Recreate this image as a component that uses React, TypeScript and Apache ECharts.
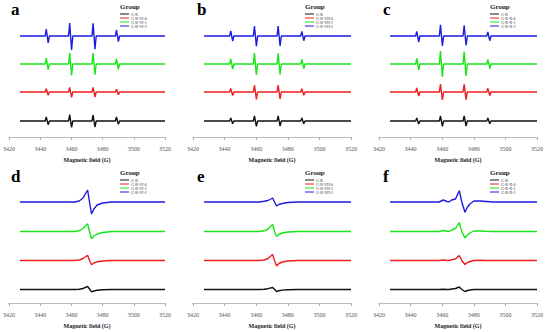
import React, { useEffect, useRef } from "react";
import * as echarts from "echarts";

const PANEL_LETTERS = ["a", "b", "c", "d", "e", "f"];
const GROUP_LABELS = [
  ["G-R", "G-R-VI-0", "G-R-VI-1", "G-R-VI-2"],
  ["G-R", "G-R-VII-0", "G-R-VII-1", "G-R-VII-2"],
  ["G-R", "G-R-X-0", "G-R-X-1", "G-R-X-2"],
  ["G-R", "G-R-VI-0", "G-R-VI-1", "G-R-VI-2"],
  ["G-R", "G-R-VII-0", "G-R-VII-1", "G-R-VII-2"],
  ["G-R", "G-R-X-0", "G-R-X-1", "G-R-X-2"],
];
const X_TICKS = [3420, 3440, 3460, 3480, 3500, 3520];

// Magnetic field sample points (G) for quartet spectra (top row)
const QUARTET_FIELD = [3427, 3443.2, 3443.9, 3445.1, 3445.9, 3458.2, 3458.9, 3460.1, 3460.9, 3473.2, 3473.9, 3475.1, 3475.9, 3488.2, 3488.9, 3490.1, 3490.9, 3520];
// intensities (black, red, green, blue)
const aBlack = [0, 0, 4, -3.7, 0, 0, 6.3, -6.3, 0, 0, 6, -6, 0, 0, 4, -3.3, 0, 0];
const aRed = [0, 0, 3.3, -3.3, 0, 0, 4.7, -5.3, 0, 0, 4.7, -5, 0, 0, 2.7, -2.7, 0, 0];
const aGreen = [0, 0, 6, -5.7, 0, 0, 11, -11.3, 0, 0, 11, -10.7, 0, 0, 5, -5, 0, 0];
const aBlue = [0, 0, 7, -7, 0, 0, 13, -14, 0, 0, 12.7, -13.3, 0, 0, 6, -5.7, 0, 0];

const bBlack = [0, 0, 3, -2.7, 0, 0, 5, -5.3, 0, 0, 5, -5, 0, 0, 3, -2.7, 0, 0];
const bRed = [0, 0, 3.5, -3.5, 0, 0, 7, -7.3, 0, 0, 7, -7, 0, 0, 3.3, -3.3, 0, 0];
const bGreen = [0, 0, 5, -5, 0, 0, 11, -11, 0, 0, 10.7, -10.5, 0, 0, 4.7, -4.7, 0, 0];
const bBlue = [0, 0, 5, -5, 0, 0, 10, -10.3, 0, 0, 10, -10, 0, 0, 4.7, -4.7, 0, 0];

const cBlack = [0, 0, 3, -3, 0, 0, 5, -5.3, 0, 0, 5, -5, 0, 0, 3, -2.7, 0, 0];
const cRed = [0, 0, 4, -4, 0, 0, 8, -8, 0, 0, 7.7, -7.7, 0, 0, 3.7, -3.7, 0, 0];
const cGreen = [0, 0, 5.7, -6, 0, 0, 13, -12.7, 0, 0, 12.3, -12, 0, 0, 4.7, -4.7, 0, 0];
const cBlue = [0, 0, 4.7, -6, 0, 0, 11.3, -10, 0, 0, 10.7, -9.3, 0, 0, 4, -4.7, 0, 0];

// Field sample points for the single broad line spectra (bottom row)
const SINGLET_FIELD = [3427, 3462, 3465, 3467.5, 3469.3, 3470.4, 3471.6, 3472.9, 3474.4, 3476.5, 3480, 3486, 3520];
const dBlack = [0, 0, 0.3, 1, 2.3, 3, 0.5, -2.3, -1.5, -0.8, -0.3, 0, 0];
const dRed = [0, 0, 0.5, 2, 4, 5.3, 0, -4.3, -2.5, -1.3, -0.5, 0, 0];
const dGreen = [0, 0, 0.7, 3, 6, 7.7, 0, -7.3, -4.5, -2.5, -1, 0, 0];
const dBlue = [0, 0, 1, 4, 9, 12, 0, -12, -7, -3, -1, 0, 0];

const eBlack = [0, 0, 0.3, 0.8, 1.6, 2, 0.3, -2, -1.2, -0.6, -0.2, 0, 0];
const eRed = [0, 0, 0.5, 2, 4.5, 6, 0, -5.5, -3, -1.5, -0.5, 0, 0];
const eGreen = [0, 0, 0.7, 2.5, 5.5, 7, 0, -5, -3, -1.5, -0.5, 0, 0];
const eBlue = [0, 0, 0.8, 1.5, 3, 4, 0, -4, -2.5, -1.5, -0.5, 0, 0];

const F_FIELD = [3427, 3458, 3460.7, 3463, 3464.5, 3466, 3468.4, 3470.8, 3472.4, 3474.4, 3476, 3477.5, 3480, 3484, 3488, 3492, 3520];
const fBlack = [0, 0, 0.3, 0, 0, 0.5, 1, 2.5, 0, -2, -1, -0.5, 0, 0, 0, 0, 0];
const fRed = [0, 0, 0.5, 0, 0, 0.8, 1.5, 5, 0, -4, -2, -1, 0, 0.3, 0, 0, 0];
const fGreen = [0, 0, 1, 0.3, 0.3, 1.5, 3, 9, 0, -6.5, -3.5, -1.5, 0.5, 0.5, 0.2, 0, 0];
const fBlue = [0, 0, 2, 0.5, 0.3, 2, 3, 11.3, 0, -10.3, -5, -2, 1, 1, 0.5, 0, 0];

const PANEL_FIELDS = [QUARTET_FIELD, QUARTET_FIELD, QUARTET_FIELD, SINGLET_FIELD, SINGLET_FIELD, F_FIELD];
const PANEL_SPECTRA = [
  [aBlack, aRed, aGreen, aBlue],
  [bBlack, bRed, bGreen, bBlue],
  [cBlack, cRed, cGreen, cBlue],
  [dBlack, dRed, dGreen, dBlue],
  [eBlack, eRed, eGreen, eBlue],
  [fBlack, fRed, fGreen, fBlue],
];

const COLORS = ["#111111", "#ee1c1c", "#16e616", "#1c1ce0"];
const FONT = "Liberation Serif";

export default function App() {
  const ref = useRef<HTMLDivElement>(null);
  useEffect(() => {
    if (!ref.current) return;
    const chart = echarts.init(ref.current, undefined, { renderer: "svg" });
    const colLeft = [7, 193, 379];
    const legendLeft = [120, 305, 490];
    const rowTop = [7, 173];
    const stackTop = [16, 45, 73, 101];
    const stackBottom = [13.5, 42.5, 71.5, 101];

    const grids: any[] = [];
    const xAxes: any[] = [];
    const yAxes: any[] = [];
    const series: any[] = [];
    const titles: any[] = [];
    const legends: any[] = [];

    for (let p = 0; p < 6; p++) {
      const col = p % 3;
      const row = Math.floor(p / 3);
      grids.push({ left: colLeft[col], top: rowTop[row], width: 158, height: 130 });
      xAxes.push({
        gridIndex: p,
        type: "value",
        min: X_TICKS[0],
        max: X_TICKS[X_TICKS.length - 1],
        interval: 20,
        name: "Magnetic field (G)",
        nameLocation: "middle",
        nameGap: 20,
        nameTextStyle: { fontSize: 6, fontWeight: "bold", color: "#222", fontFamily: FONT },
        axisLine: { show: true, lineStyle: { color: "#bbbbbb", width: 1 } },
        axisTick: { show: true, length: 3, lineStyle: { color: "#aaaaaa" } },
        axisLabel: { fontSize: 6, color: "#555", margin: 9, fontFamily: FONT, formatter: (v: number) => String(v) },
        splitLine: { show: false },
      });
      yAxes.push({ gridIndex: p, type: "value", min: 0, max: 130, show: false });
      const fields = PANEL_FIELDS[p];
      const offsets = row === 0 ? stackTop : stackBottom;
      PANEL_SPECTRA[p].forEach((vals, k) => {
        series.push({
          type: "line",
          name: GROUP_LABELS[p][k],
          xAxisIndex: p,
          yAxisIndex: p,
          data: fields.map((f, i) => [f, offsets[k] + vals[i]]),
          symbol: "none",
          lineStyle: { color: COLORS[k], width: 1.4 },
          itemStyle: { color: COLORS[k] },
          z: 2 + k,
        });
      });
      titles.push({
        text: PANEL_LETTERS[p],
        left: colLeft[col] + 4,
        top: row === 0 ? 1 : 168,
        padding: 0,
        textStyle: { fontSize: 17, fontWeight: "bold", color: "#000", fontFamily: FONT },
      });
      titles.push({
        text: "Group",
        left: legendLeft[col],
        top: row === 0 ? 3 : 169,
        padding: 0,
        textStyle: { fontSize: 7, fontWeight: "bold", color: "#222", fontFamily: FONT },
      });
      legends.push({
        orient: "vertical",
        left: legendLeft[col],
        top: row === 0 ? 12 : 178,
        padding: 0,
        data: GROUP_LABELS[p],
        icon: "rect",
        itemWidth: 9,
        itemHeight: 1,
        itemGap: 0,
        selectedMode: false,
        textStyle: { fontSize: 4, lineHeight: 4, color: "#333", fontFamily: FONT, padding: [0, 0, 0, -3] },
      });
    }

    chart.setOption({
      animation: false,
      backgroundColor: "#ffffff",
      title: titles,
      legend: legends,
      grid: grids,
      xAxis: xAxes,
      yAxis: yAxes,
      series,
    });
    return () => chart.dispose();
  }, []);
  return <div ref={ref} style={{ width: 550, height: 332, position: "absolute", left: 0, top: 0 }} />;
}
